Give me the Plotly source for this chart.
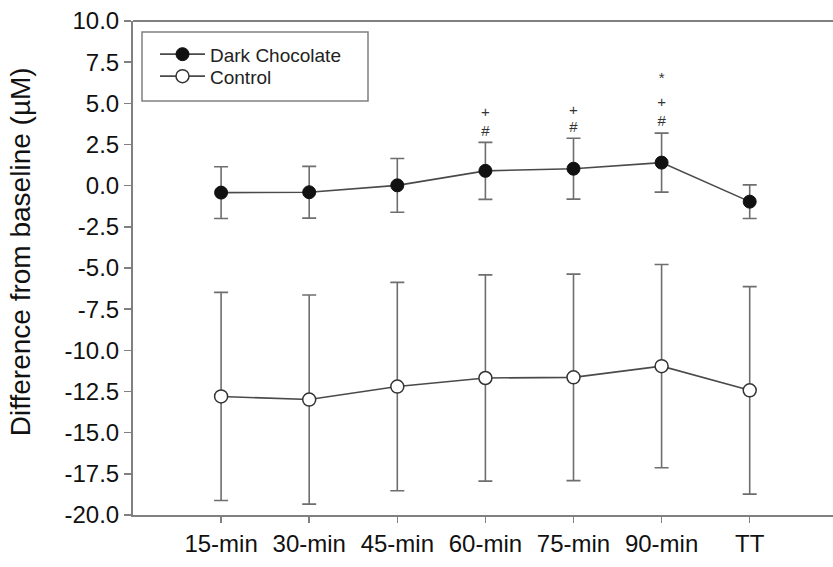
import plotly.graph_objects as go

categories = ["15-min", "30-min", "45-min", "60-min", "75-min", "90-min", "TT"]
x_pos = [1, 2, 3, 4, 5, 6, 7]

dark_mean = [-0.42, -0.40, 0.02, 0.90, 1.03, 1.40, -0.97]
dark_err = [1.57, 1.57, 1.63, 1.73, 1.85, 1.79, 1.02]

control_mean = [-12.80, -12.99, -12.20, -11.68, -11.64, -10.96, -12.43]
control_err = [6.32, 6.35, 6.33, 6.26, 6.27, 6.17, 6.30]

# significance markers (category index, y position, symbol)
sig_x = [4, 4, 5, 5, 6, 6, 6]
sig_y = [3.27, 4.4, 3.48, 4.5, 3.85, 5.0, 6.45]
sig_text = ["#", "+", "#", "+", "#", "+", "*"]

y_ticks = [10.0, 7.5, 5.0, 2.5, 0.0, -2.5, -5.0, -7.5, -10.0, -12.5, -15.0, -17.5, -20.0]
y_title = "Difference from baseline (\u00b5M)"

line_col = "#4a4a4a"
err_col = "#6e6e6e"
axis_col = "#808080"
font_family = "Liberation Sans, Arial, sans-serif"

fig = go.Figure()

fig.add_trace(go.Scatter(
    x=x_pos, y=dark_mean, name="Dark Chocolate", mode="lines+markers",
    line=dict(color=line_col, width=1.6),
    marker=dict(symbol="circle", size=13, color="#111111", line=dict(color="#111111", width=1)),
    error_y=dict(type="data", array=dark_err, visible=True, color=err_col, thickness=1.6, width=7),
    legend="legend",
))

fig.add_trace(go.Scatter(
    x=x_pos, y=control_mean, name="Control", mode="lines+markers",
    line=dict(color=line_col, width=1.6),
    marker=dict(symbol="circle", size=13, color="white", line=dict(color="#333333", width=1.5)),
    error_y=dict(type="data", array=control_err, visible=True, color=err_col, thickness=1.6, width=7),
    legend="legend2",
))

fig.add_trace(go.Scatter(
    x=sig_x, y=sig_y, mode="text", text=sig_text, showlegend=False,
    textfont=dict(family=font_family, size=15, color="#333333"),
    hoverinfo="skip",
))

FIG_W = 860          # figure runs a little past the 833 px window, as the reference frame does
PW, PH = FIG_W - 133, 494  # plot-area size in px

# legend frame and top frame line (styling)
fig.add_shape(type="rect", xref="paper", yref="paper",
              x0=9 / PW, x1=235 / PW, y0=1 - 80 / PH, y1=1 - 11 / PH,
              line=dict(color=axis_col, width=1.5), fillcolor="white", layer="below")
fig.add_shape(type="line", xref="paper", yref="paper", x0=0, x1=1, y0=1, y1=1,
              line=dict(color=axis_col, width=2), layer="above")

legend_style = dict(
    xanchor="left", yanchor="top",
    bgcolor="rgba(0,0,0,0)", borderwidth=0,
    font=dict(size=19, family=font_family, color="#222222"),
    itemwidth=45,
)

fig.update_layout(
    width=FIG_W, height=567,
    margin=dict(l=133, r=0, t=21, b=52),
    paper_bgcolor="white", plot_bgcolor="white",
    font=dict(family=font_family, color="#111111"),
    showlegend=True,
    hovermode=False,
    legend=dict(x=22 / PW, y=1 - 14.3 / PH, **legend_style),
    legend2=dict(x=22 / PW, y=1 - 36.3 / PH, **legend_style),
)

fig.add_annotation(
    text=y_title, xref="paper", yref="paper", x=-113 / PW, y=0.532,
    xanchor="center", yanchor="middle", textangle=-90, showarrow=False,
    font=dict(size=28, family=font_family, color="#111111"),
)

fig.update_xaxes(
    range=[0, PW / 88.1], tickmode="array", tickvals=x_pos, ticktext=categories,
    showgrid=False, zeroline=False, automargin=False, showspikes=False,
    showline=True, linecolor=axis_col, linewidth=2, mirror=False,
    ticks="outside", ticklen=6, tickcolor=axis_col, tickwidth=1.5,
    tickfont=dict(size=24, family=font_family, color="#111111"),
)

fig.update_yaxes(
    range=[-20, 10], tickmode="array", tickvals=y_ticks,
    ticktext=[f"{v:.1f}" for v in y_ticks],
    showgrid=False, zeroline=False, automargin=False, showspikes=False,
    showline=True, linecolor=axis_col, linewidth=2, mirror=False,
    ticks="outside", ticklen=7, tickcolor=axis_col, tickwidth=1.5,
    tickfont=dict(size=24, family=font_family, color="#111111"),
)

fig.write_html(
    "out.html",
    config={"displayModeBar": False, "staticPlot": True},
    post_script="document.body.style.margin='0';document.body.style.overflow='hidden';",
)
